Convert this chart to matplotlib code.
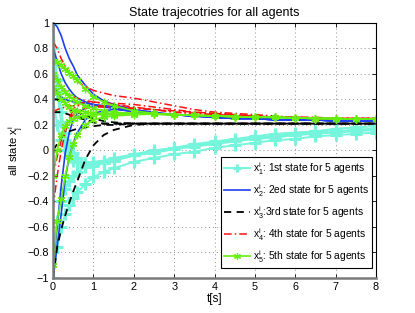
import matplotlib
matplotlib.use("Agg")
import matplotlib.pyplot as plt
from matplotlib.lines import Line2D

plt.rcParams['font.family'] = ['Liberation Sans', 'DejaVu Sans']
plt.rcParams['mathtext.fontset'] = 'custom'
plt.rcParams['mathtext.rm'] = 'Liberation Sans'
plt.rcParams['mathtext.it'] = 'Liberation Sans'

# time samples [s]
t = [0, 0.1, 0.2, 0.3, 0.4, 0.5, 0.6, 0.8, 1.0, 1.25, 1.5, 2, 2.5, 3, 3.5, 4, 4.5, 5, 5.5, 6, 6.5, 7, 7.5, 8]

# state 1 (cyan) for 5 agents
x1 = [
    [1.0, 0.55, 0.30, 0.14, 0.04, -0.02, -0.06, -0.10, -0.11, -0.10, -0.08, -0.04, -0.01, 0.02, 0.05, 0.07, 0.09, 0.11, 0.13, 0.14, 0.15, 0.17, 0.18, 0.19],
    [0.8, 0.45, 0.22, 0.08, -0.01, -0.06, -0.09, -0.12, -0.12, -0.10, -0.08, -0.04, -0.01, 0.02, 0.04, 0.06, 0.08, 0.10, 0.11, 0.13, 0.14, 0.15, 0.16, 0.17],
    [-1.0, -0.76, -0.60, -0.50, -0.43, -0.37, -0.33, -0.26, -0.21, -0.17, -0.14, -0.09, -0.06, -0.03, -0.01, 0.02, 0.04, 0.06, 0.08, 0.09, 0.11, 0.12, 0.13, 0.14],
    [-0.8, -0.55, -0.40, -0.30, -0.24, -0.20, -0.17, -0.13, -0.11, -0.09, -0.07, -0.04, -0.02, 0.01, 0.03, 0.05, 0.07, 0.09, 0.10, 0.12, 0.13, 0.14, 0.15, 0.16],
    [0.4, 0.20, 0.08, 0.0, -0.05, -0.08, -0.09, -0.10, -0.09, -0.08, -0.06, -0.03, 0.0, 0.02, 0.04, 0.06, 0.08, 0.10, 0.11, 0.13, 0.14, 0.15, 0.16, 0.17],
]
# state 2 (blue)
x2 = [
    [1.0, 0.97, 0.90, 0.80, 0.72, 0.66, 0.59, 0.51, 0.44, 0.39, 0.36, 0.32, 0.30, 0.28, 0.27, 0.26, 0.25, 0.25, 0.24, 0.24, 0.24, 0.23, 0.23, 0.23],
    [0.8, 0.70, 0.60, 0.53, 0.48, 0.44, 0.41, 0.38, 0.36, 0.34, 0.33, 0.30, 0.29, 0.28, 0.27, 0.26, 0.25, 0.25, 0.24, 0.24, 0.24, 0.23, 0.23, 0.23],
    [-1.0, -0.75, -0.50, -0.22, -0.05, 0.06, 0.14, 0.24, 0.29, 0.31, 0.32, 0.31, 0.29, 0.28, 0.27, 0.26, 0.25, 0.25, 0.24, 0.24, 0.24, 0.23, 0.23, 0.23],
    [-0.9, -0.60, -0.28, -0.02, 0.14, 0.24, 0.29, 0.33, 0.35, 0.35, 0.34, 0.31, 0.29, 0.28, 0.27, 0.26, 0.25, 0.25, 0.24, 0.24, 0.24, 0.23, 0.23, 0.23],
    [0.5, 0.45, 0.42, 0.40, 0.39, 0.38, 0.38, 0.37, 0.36, 0.35, 0.34, 0.31, 0.29, 0.28, 0.27, 0.26, 0.25, 0.25, 0.24, 0.24, 0.24, 0.23, 0.23, 0.23],
]
# state 3 (black dashed)
x3 = [
    [0.5, 0.46, 0.41, 0.37, 0.33, 0.30, 0.27, 0.24, 0.22, 0.21, 0.21, 0.21, 0.21, 0.21, 0.21, 0.21, 0.21, 0.21, 0.21, 0.21, 0.21, 0.21, 0.21, 0.21],
    [0.4, 0.40, 0.38, 0.36, 0.34, 0.32, 0.30, 0.27, 0.25, 0.23, 0.22, 0.21, 0.21, 0.21, 0.21, 0.21, 0.21, 0.21, 0.21, 0.21, 0.21, 0.21, 0.21, 0.21],
    [-1.0, -0.76, -0.62, -0.51, -0.41, -0.32, -0.24, -0.07, 0.04, 0.12, 0.16, 0.20, 0.21, 0.21, 0.21, 0.21, 0.21, 0.21, 0.21, 0.21, 0.21, 0.21, 0.21, 0.21],
    [0.3, 0.30, 0.30, 0.29, 0.28, 0.27, 0.26, 0.24, 0.22, 0.21, 0.21, 0.21, 0.21, 0.21, 0.21, 0.21, 0.21, 0.21, 0.21, 0.21, 0.21, 0.21, 0.21, 0.21],
    [0.0, 0.05, 0.10, 0.13, 0.15, 0.16, 0.17, 0.18, 0.19, 0.20, 0.20, 0.21, 0.21, 0.21, 0.21, 0.21, 0.21, 0.21, 0.21, 0.21, 0.21, 0.21, 0.21, 0.21],
]
# state 4 (red dash-dot)
x4 = [
    [0.85, 0.80, 0.72, 0.66, 0.61, 0.57, 0.54, 0.50, 0.47, 0.45, 0.43, 0.41, 0.38, 0.35, 0.32, 0.30, 0.29, 0.28, 0.27, 0.26, 0.26, 0.25, 0.25, 0.25],
    [0.6, 0.55, 0.50, 0.47, 0.44, 0.42, 0.41, 0.39, 0.38, 0.37, 0.37, 0.36, 0.34, 0.32, 0.30, 0.29, 0.28, 0.27, 0.26, 0.26, 0.25, 0.25, 0.25, 0.25],
    [-0.45, -0.20, 0.0, 0.14, 0.25, 0.32, 0.36, 0.38, 0.38, 0.37, 0.36, 0.34, 0.32, 0.31, 0.30, 0.29, 0.28, 0.27, 0.26, 0.26, 0.25, 0.25, 0.25, 0.25],
    [-0.2, -0.05, 0.08, 0.18, 0.24, 0.28, 0.31, 0.33, 0.34, 0.34, 0.34, 0.33, 0.32, 0.30, 0.29, 0.28, 0.27, 0.27, 0.26, 0.26, 0.25, 0.25, 0.25, 0.25],
    [0.3, 0.32, 0.33, 0.34, 0.35, 0.35, 0.35, 0.35, 0.35, 0.35, 0.34, 0.33, 0.32, 0.30, 0.29, 0.28, 0.27, 0.27, 0.26, 0.26, 0.25, 0.25, 0.25, 0.25],
]
# state 5 (green)
x5 = [
    [0.7, 0.69, 0.67, 0.64, 0.61, 0.58, 0.55, 0.48, 0.42, 0.38, 0.35, 0.31, 0.29, 0.28, 0.275, 0.27, 0.265, 0.26, 0.26, 0.255, 0.25, 0.25, 0.245, 0.245],
    [0.6, 0.55, 0.50, 0.46, 0.43, 0.40, 0.38, 0.35, 0.33, 0.31, 0.30, 0.29, 0.285, 0.28, 0.275, 0.27, 0.265, 0.26, 0.26, 0.255, 0.25, 0.25, 0.245, 0.245],
    [0.5, 0.45, 0.40, 0.37, 0.34, 0.32, 0.31, 0.30, 0.29, 0.29, 0.29, 0.29, 0.285, 0.28, 0.275, 0.27, 0.265, 0.26, 0.26, 0.255, 0.25, 0.25, 0.245, 0.245],
    [-0.2, 0.0, 0.12, 0.19, 0.23, 0.25, 0.26, 0.27, 0.28, 0.28, 0.28, 0.29, 0.285, 0.28, 0.275, 0.27, 0.265, 0.26, 0.26, 0.255, 0.25, 0.25, 0.245, 0.245],
    [-0.9, -0.55, -0.38, -0.20, -0.05, 0.05, 0.12, 0.20, 0.24, 0.26, 0.27, 0.28, 0.285, 0.28, 0.275, 0.27, 0.265, 0.26, 0.26, 0.255, 0.25, 0.25, 0.245, 0.245],
]

legend_labels = [
    r'$x^i_1$: 1st state for 5 agents',
    r'$x^i_2$: 2ed state for 5 agents',
    r'$x^i_3$:3rd state for 5 agents',
    r'$x^i_4$: 4th state for 5 agents',
    r'$x^i_5$: 5th state for 5 agents',
]
yticks = [-1, -0.8, -0.6, -0.4, -0.2, 0, 0.2, 0.4, 0.6, 0.8, 1]
ytick_labels = ['\u22121', '\u22120.8', '\u22120.6', '\u22120.4', '\u22120.2', '0', '0.2', '0.4', '0.6', '0.8', '1']
xticks = [0, 1, 2, 3, 4, 5, 6, 7, 8]

c_cyan = '#74f5dc'
c_blue = '#2040f0'
c_green = '#66ee11'
c_red = '#ff1010'

styles = [
    dict(color=c_cyan, lw=1.4, ls='-', marker='+', ms=8, mew=2.2),
    dict(color=c_blue, lw=1.2, ls='-'),
    dict(color='black', lw=1.3, ls=(0, (4, 3))),
    dict(color=c_red, lw=1.1, ls=(0, (5, 2, 1, 2))),
    dict(color=c_green, lw=1.2, ls='-', marker=(6, 2, 0), ms=5.5, mew=0.9),
]

fig = plt.figure(figsize=(4.15, 3.13), dpi=100)
ax = fig.add_axes([0.128, 0.112, 0.778, 0.815])

for series, st in zip([x1, x2, x3, x4, x5], styles):
    for y in series:
        ax.plot(t, y, **st)

ax.set_xlim(0, 8)
ax.set_ylim(-1, 1)
ax.set_xticks(xticks)
ax.set_xticklabels([str(v) for v in xticks])
ax.set_yticks(yticks)
ax.set_yticklabels(ytick_labels)
ax.tick_params(labelsize=7.8, direction='in', length=3, width=0.6, top=True, right=True, pad=3)
ax.grid(True, ls=(0, (1, 3)), color='#909090', lw=0.7)
for s in ['left', 'bottom']:
    ax.spines[s].set_color('#7a7a7a')
    ax.spines[s].set_linewidth(1.8)
for s in ['top', 'right']:
    ax.spines[s].set_color('black')
    ax.spines[s].set_linewidth(0.8)

ax.set_title('State trajecotries for all agents', fontsize=9, pad=5)
ax.set_xlabel('t[s]', fontsize=8.5, labelpad=1)
ax.set_ylabel(r'all state $x^i_j$', fontsize=8, labelpad=1)

handles = [Line2D([], [], **st) for st in styles]
handles[0].set_markersize(6)
handles[4].set_markersize(5)
leg = ax.legend(handles, legend_labels, loc='lower right', fontsize=7.4,
                fancybox=False, edgecolor='black', framealpha=1, handlelength=2.5,
                borderpad=0.3, labelspacing=0.5, handletextpad=0.3, borderaxespad=0,
                bbox_to_anchor=(0.988, 0.04))
leg.get_frame().set_linewidth(0.8)

fig.savefig('out.png', dpi=100)
